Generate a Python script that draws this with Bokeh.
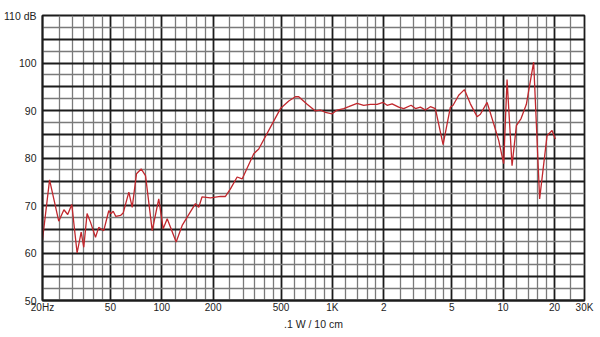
from bokeh.plotting import figure
from bokeh.models import FixedTicker, Range1d
from bokeh.embed import file_html
from bokeh.resources import INLINE

# Frequency response data (Hz, dB)
freq = [20, 22, 24.9, 26.7, 28.1, 29.7, 31.9, 33.7, 34.9, 36.5, 38.2, 40.9, 42.7, 45.7,
        48.9, 50.5, 51.9, 53.8, 57.3, 59.4, 64.1, 67.1, 71.1, 75.7, 80.3, 87.9, 96.0,
        101.9, 107.6, 121.4, 131.7, 145, 157.5, 164.7, 172, 192.8, 220.8, 236.1, 252.6,
        276.5, 295.8, 345.9, 370, 433.5, 496, 554.8, 607, 634.7, 710.9, 795, 850.5,
        910, 996, 1065, 1165, 1246, 1395, 1525, 1669, 1827, 1981, 2091, 2237, 2446,
        2617, 2891, 3064, 3277, 3506, 3750, 4011, 4451, 4912, 5094, 5494, 5933, 6433,
        7042, 7362, 8059, 8810, 9424, 10081, 10552, 11287, 11963, 12747, 13691, 15105,
        16377, 18100, 19360, 20245]
level = [62.8, 75.4, 66.7, 69.1, 68.1, 70.2, 60.0, 64.4, 61.2, 68.3, 66.5, 63.3, 65.4, 64.7,
         68.9, 68.3, 68.8, 67.7, 67.9, 68.4, 72.8, 69.6, 76.7, 77.7, 76.3, 64.7, 71.4,
         65.1, 67.2, 62.3, 65.8, 68.3, 70.4, 69.6, 71.8, 71.6, 71.9, 71.9, 73.5,
         76.0, 75.6, 80.9, 81.9, 86.5, 90.4, 92.0, 92.9, 92.9, 91.3, 89.9, 90.1,
         89.6, 89.3, 90.1, 90.4, 90.8, 91.5, 91.1, 91.3, 91.3, 91.7, 91.1, 91.4, 90.7,
         90.4, 91.1, 90.4, 90.7, 90.1, 90.8, 90.4, 82.8, 90.7, 91.1, 93.2, 94.4, 91.4,
         88.7, 89.2, 91.7, 87.2, 83.7, 78.8, 96.5, 78.4, 86.8, 88.3, 91.3, 100.2,
         71.4, 84.7, 85.8, 84.0]

# Axis ticks and labels
x_ticks = [20, 50, 100, 200, 500, 1000, 2000, 5000, 10000, 20000, 30000]
x_labels = ["20Hz", "50", "100", "200", "500", "1K", "2", "5", "10", "20", "30K"]
x_minor = [25, 30, 35, 40, 45, 60, 70, 80, 90, 120, 140, 160, 180,
           250, 300, 350, 400, 450, 600, 700, 800, 900, 1200, 1400, 1600, 1800,
           2500, 3000, 3500, 4000, 4500, 6000, 7000, 8000, 9000, 12000, 14000, 16000, 18000,
           25000]
y_ticks = [50, 60, 70, 80, 90, 100, 110]
y_labels = ["50", "60", "70", "80", "90", "100", "110 dB"]
y_major_grid = [50, 55, 60, 65, 70, 75, 80, 85, 90, 95, 100, 105, 110]
y_minor_grid = [52.5, 57.5, 62.5, 67.5, 72.5, 77.5, 82.5, 87.5, 92.5, 97.5, 102.5, 107.5]
x_title = ".1 W / 10 cm"

FONT = "Liberation Sans"
DARK = "#1c1c1c"
GRAY = "#7a7a7a"

p = figure(frame_width=542, frame_height=285, x_axis_type="log",
           x_range=Range1d(20, 30000), y_range=Range1d(50, 110),
           output_backend="svg", toolbar_location=None,
           min_border_left=42, min_border_right=14, min_border_top=15, min_border_bottom=20)
p.background_fill_color = "white"
p.border_fill_color = "white"
p.outline_line_color = DARK
p.outline_line_width = 1.8

# grids
p.xgrid.ticker = FixedTicker(ticks=x_ticks, minor_ticks=x_minor)
p.xgrid.grid_line_color = DARK
p.xgrid.grid_line_width = 1.8
p.xgrid.minor_grid_line_color = GRAY
p.xgrid.minor_grid_line_width = 1.3

p.ygrid.ticker = FixedTicker(ticks=y_major_grid, minor_ticks=y_minor_grid)
p.ygrid.grid_line_color = DARK
p.ygrid.grid_line_width = 1.8
p.ygrid.minor_grid_line_color = GRAY
p.ygrid.minor_grid_line_width = 1.3

# axes
for ax in (p.xaxis[0], p.yaxis[0]):
    ax.axis_line_color = DARK
    ax.axis_line_width = 1.8
    ax.major_tick_line_color = None
    ax.minor_tick_line_color = None
    ax.major_tick_out = 0
    ax.major_tick_in = 0
    ax.minor_tick_out = 0
    ax.minor_tick_in = 0
    ax.major_label_text_font = FONT
    ax.major_label_text_color = "#222222"

p.xaxis.ticker = FixedTicker(ticks=x_ticks)
p.xaxis.major_label_overrides = {t: l for t, l in zip(x_ticks, x_labels)}
p.xaxis.major_label_text_font_size = "10px"
p.xaxis.major_label_standoff = 1
p.xaxis.axis_label = x_title
p.xaxis.axis_label_text_font = FONT
p.xaxis.axis_label_text_font_size = "10.5px"
p.xaxis.axis_label_text_font_style = "normal"
p.xaxis.axis_label_text_color = "#222222"
p.xaxis.axis_label_standoff = 2

p.yaxis.ticker = FixedTicker(ticks=y_ticks)
p.yaxis.major_label_overrides = {t: l for t, l in zip(y_ticks, y_labels)}
p.yaxis.major_label_text_font_size = "10.5px"
p.yaxis.major_label_standoff = 6

p.line(freq, level, line_color="#c1272d", line_width=1.3)

open("out.html", "w").write(file_html(p, INLINE))
